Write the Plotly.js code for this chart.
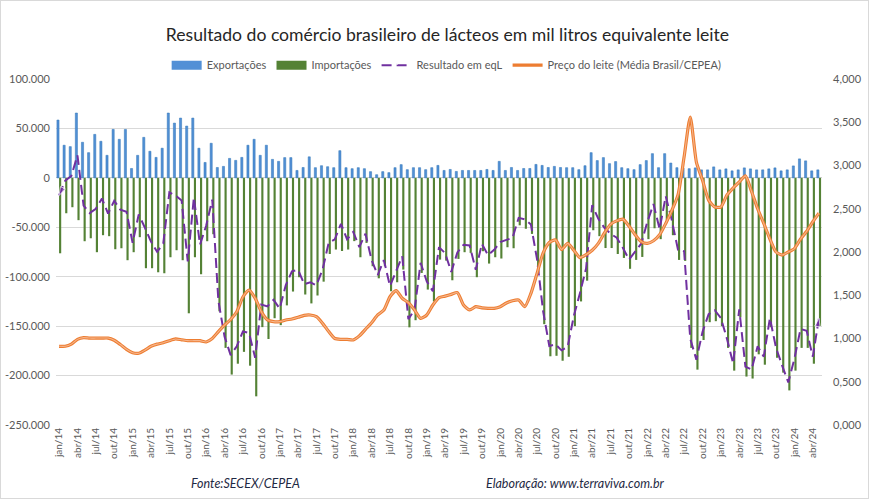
<!DOCTYPE html>
<html><head><meta charset="utf-8">
<script src="https://cdn.plot.ly/plotly-3.0.1.min.js"></script>
<style>html,body{margin:0;padding:0;background:#fff}#chart{width:869px;height:499px;box-sizing:border-box;border:1px solid #d9d9d9}</style>
</head><body><div id="chart"></div>
<script>
const monthNames = ["jan","fev","mar","abr","mai","jun","jul","ago","set","out","nov","dez"];
const years = ["14","15","16","17","18","19","20","21","22","23","24"];
const nMonths = 125;
const categories = [];
for (let i = 0; i < nMonths; i++) categories.push(monthNames[i % 12] + "/" + years[Math.floor(i / 12)]);
const xTickVals = categories.filter((c, i) => i % 3 === 0);

const exportacoes = [58.5,33,31.6,65.6,36,25.5,44,37,22.8,49,39,49,9.5,22.8,41,26.9,20.7,30,65.6,55.4,
60.5,52.4,60.5,30,15.6,35,10.5,11.6,19.7,17.7,20.7,33,39,22.8,33,18.7,16.7,20.5,20.5,7.5,
10.5,21.3,10.3,12.3,11.3,10.3,27.5,10.3,9.3,10.3,9.3,6.3,3.2,6.3,5.3,10.3,13.4,8.3,10.3,10.3,
8.3,10.3,12.6,7.5,8.5,6.5,7.5,7.5,7.5,7.5,8.5,7.5,16.7,7.5,10.5,7.5,9.5,9.5,13.6,12.6,
10.5,11.6,10.5,10.3,10.3,8.3,12.3,25.5,17.5,20.5,14.4,16.5,10.3,9.3,8.3,13.4,17.5,24.5,10.3,24.5,
15,10.3,9.8,9.3,10.1,8.1,8.1,11.1,8.1,9.1,7.1,8.1,10.1,9.1,8.1,8.1,9.1,10.1,7.1,8.1,
12.1,19.2,17.2,7.1,8.1];
const importacoes = [-76.3,-35.8,-29.7,-42.8,-64.1,-61.1,-75.2,-58,-59,-72.2,-71.2,-83.3,-75.2,-60,-91.4,-91.4,-95.5,-96.5,-80.3,-73.2,
-83.3,-137,-80.3,-97.5,-64.1,-57,-135,-172,-199,-188,-176,-190,-221,-151,-163,-142,-149,-129,-115,-100.5,
-118,-127,-119,-105,-77,-72.5,-74,-72.5,-64,-80.3,-65.8,-89.4,-101.6,-89.4,-114.7,-105.6,-92.8,-151.2,-144,-96.2,
-113,-125,-82.7,-83.7,-103.6,-82,-75.2,-75.9,-100.5,-74.2,-86.7,-80.3,-81.6,-70.2,-71.2,-48,-51.5,-56.7,-96,-148,
-180.5,-180,-185,-181,-150,-125,-104,-53,-59,-71,-71,-77,-81,-92,-83,-80,-62,-51,-62,-43,
-58,-83,-84,-172,-194,-164,-146,-145,-150,-172,-195,-141,-201,-203,-178.5,-189,-151,-182,-197,-215,
-195,-172,-172,-188,-150];
const resultado = [-17.8,-2.8,1.9,22.8,-28.1,-35.6,-31.2,-21,-36.2,-23.2,-32.2,-34.3,-65.7,-37,-50.4,-64.5,-74.8,-66.5,-14.7,-17.8,
-22.8,-84.6,-19.8,-67.5,-48.5,-22,-124.5,-160.4,-179.3,-170.3,-155.3,-157,-182,-128.2,-130,-123.3,-132.3,-108.5,-94.5,-93,
-107.5,-105.7,-108.7,-92.7,-65.7,-62.2,-46.5,-62.2,-54.7,-70,-56.5,-83.1,-98.4,-83.1,-109.4,-95.3,-79.4,-142.9,-133.7,-85.9,
-104.7,-114.7,-70.1,-76.2,-95.1,-75.5,-67.7,-68.4,-93,-66.7,-78.2,-72.8,-64.9,-62.7,-60.7,-40.5,-42,-47.2,-82.4,-135.4,
-170,-168.4,-174.5,-170.7,-139.7,-116.7,-91.7,-27.5,-41.5,-50.5,-56.6,-60.5,-70.7,-82.7,-74.7,-66.6,-44.5,-26.5,-51.7,-18.5,
-43,-72.7,-74.2,-162.7,-183.9,-155.9,-137.9,-133.9,-141.9,-162.9,-187.9,-132.9,-190.9,-193.9,-170.4,-180.9,-141.9,-171.9,-189.9,-206.9,
-182.9,-152.8,-154.8,-180.9,-141.9];
const precoLeite = [0.91,0.91,0.935,0.99,1.01,1.005,1.005,1.005,1.005,0.98,0.93,0.875,0.836,0.83,0.865,0.91,0.935,0.95,0.975,0.995,
0.985,0.975,0.975,0.975,0.96,1.0,1.08,1.155,1.22,1.31,1.48,1.56,1.465,1.31,1.215,1.195,1.195,1.214,1.225,1.245,
1.268,1.272,1.252,1.175,1.08,1.0,0.99,0.99,0.983,1.03,1.106,1.183,1.272,1.33,1.483,1.553,1.465,1.414,1.33,1.233,
1.272,1.387,1.472,1.49,1.51,1.53,1.387,1.33,1.368,1.355,1.349,1.349,1.368,1.41,1.437,1.445,1.368,1.522,1.753,1.99,
2.11,2.14,2.03,2.1,2.02,1.935,1.97,2.02,2.1,2.22,2.32,2.36,2.38,2.3,2.2,2.12,2.1,2.13,2.2,2.33,
2.48,2.66,3.1,3.56,3.04,2.83,2.6,2.52,2.52,2.66,2.74,2.81,2.88,2.7,2.5,2.33,2.15,2.0,1.965,2.0,
2.04,2.15,2.24,2.35,2.45];

const yTickVals = [100,50,0,-50,-100,-150,-200,-250];
const yTickText = ["100.000","50.000","0","-50.000","-100.000","-150.000","-200.000","-250.000"];
const y2TickVals = [0,0.5,1,1.5,2,2.5,3,3.5,4];
const y2TickText = ["0,000","0,500","1,000","1,500","2,000","2,500","3,000","3,500","4,000"];

const last = resultado.length - 1;
const arrowSym = resultado.map((v, i) => (i === 0 || i === last) ? "arrow" : "circle");
const arrowSize = resultado.map((v, i) => (i === 0 || i === last) ? 9 : 0);
const arrowAng = resultado.map((v, i) => i === 0 ? 207 : (i === last ? 10 : 0));

const FF = "Lato, 'Noto Sans', sans-serif";
const txtFont = {family: FF, size: 11, color: "#595959"};
const blue = "#5290D6", green = "#548235";

const traces = [
  {type: "bar", name: "Exportações", x: categories, y: exportacoes, showlegend: false,
   marker: {color: blue, line: {color: "#2E75B6", width: 0.5}}, yaxis: "y"},
  {type: "bar", name: "Importações", x: categories, y: importacoes, showlegend: false,
   marker: {color: green}, yaxis: "y"},
  {type: "scatter", mode: "lines", name: "Exportações", x: [null], y: [null], legendrank: 1,
   line: {color: blue, width: 9}, yaxis: "y"},
  {type: "scatter", mode: "lines", name: "Importações", x: [null], y: [null], legendrank: 2,
   line: {color: green, width: 9}, yaxis: "y"},
  {type: "scatter", mode: "lines+markers", name: "Resultado em eqL", x: categories, y: resultado, legendrank: 3,
   line: {color: "#7030A0", width: 2, dash: "10px,5px"},
   marker: {symbol: arrowSym, size: arrowSize, angle: arrowAng, color: "#7030A0"}, yaxis: "y"},
  {type: "scatter", mode: "lines", name: "Preço do leite (Média Brasil/CEPEA)", x: categories, y: precoLeite, legendrank: 4,
   line: {color: "#ED7D31", width: 3.2, shape: "spline", smoothing: 0.6}, yaxis: "y2"},
  {type: "scatter", mode: "lines", showlegend: false, hoverinfo: "skip", x: categories, y: precoLeite,
   line: {color: "#F6B58C", width: 1.1, shape: "spline", smoothing: 0.6}, yaxis: "y2"}
];

const layout = {
  width: 867, height: 497,
  margin: {l: 55, r: 46, t: 78, b: 73},
  paper_bgcolor: "#ffffff", plot_bgcolor: "#ffffff",
  separators: ",.",
  font: txtFont,
  title: {text: "Resultado do comércio brasileiro de lácteos em mil litros equivalente leite",
          font: {family: FF, size: 17.6, color: "#262626"},
          x: 0.515, xanchor: "center", y: 0.932, yanchor: "middle", yref: "container"},
  barmode: "group", bargap: 0.3, bargroupgap: 0,
  showlegend: true,
  legend: {orientation: "h", x: 0.51, xanchor: "center", y: 1.04, yanchor: "middle",
           font: {family: FF, size: 11, color: "#595959"}, traceorder: "normal"},
  xaxis: {type: "category", tickmode: "array", tickvals: xTickVals, ticktext: xTickVals, tickangle: -90,
          tickfont: {family: FF, size: 10, color: "#595959"},
          showgrid: false, showline: false, ticks: "", range: [-0.5, nMonths - 0.5]},
  yaxis: {range: [-250, 100], tickmode: "array", tickvals: yTickVals, ticktext: yTickText,
          showgrid: true, gridcolor: "#D9D9D9", gridwidth: 1, zeroline: true, zerolinecolor: "#CFCFCF", zerolinewidth: 1,
          showline: false, ticks: "", ticklabelstandoff: 5, tickfont: {family: FF, size: 11, color: "#595959"}},
  yaxis2: {range: [0, 4], overlaying: "y", side: "right", tickmode: "array", tickvals: y2TickVals, ticktext: y2TickText,
           showgrid: false, zeroline: false, showline: false, ticks: "", ticklabelstandoff: 10,
           tickfont: {family: FF, size: 11, color: "#595959"}},
  annotations: [
    {text: "<i>Fonte:SECEX/CEPEA</i>", xref: "paper", yref: "paper", x: 0.247, y: -0.168, showarrow: false,
     xanchor: "center", yanchor: "middle", font: {family: FF, size: 12.5, color: "#1F2A44"}},
    {text: "<i>Elaboração: www.terraviva.com.br</i>", xref: "paper", yref: "paper", x: 0.678, y: -0.168, showarrow: false,
     xanchor: "center", yanchor: "middle", font: {family: FF, size: 12.5, color: "#1F2A44"}}
  ]
};

Plotly.newPlot("chart", traces, layout, {displayModeBar: false, staticPlot: true});
</script>
</body></html>
